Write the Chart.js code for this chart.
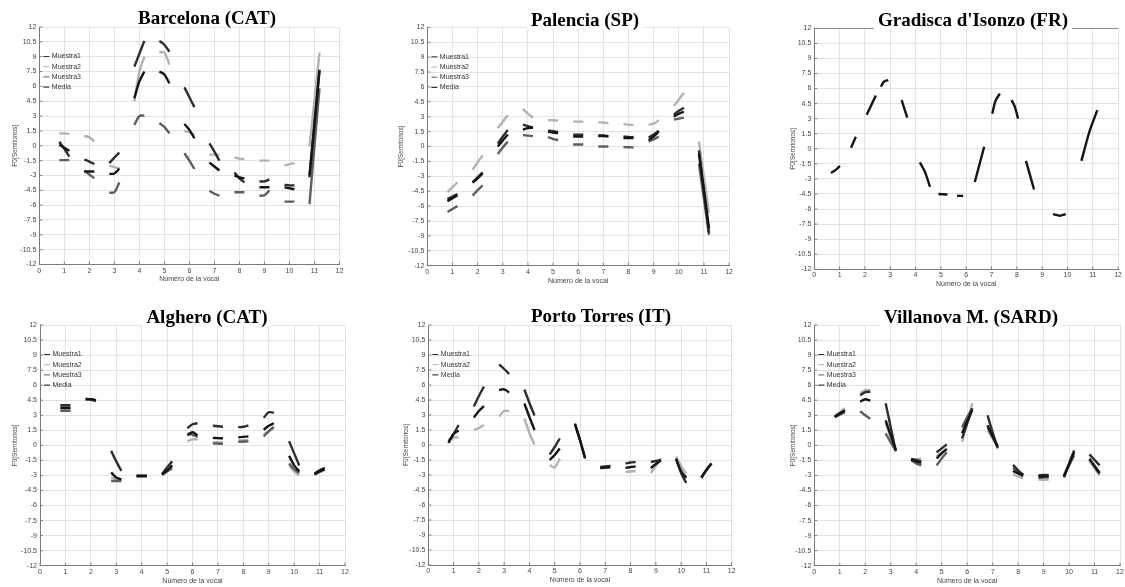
<!DOCTYPE html>
<html>
<head>
<meta charset="utf-8">
<script src="https://cdn.jsdelivr.net/npm/chart.js@4.4.1/dist/chart.umd.min.js"></script>
<style>
html,body{margin:0;padding:0;background:#fff;overflow:hidden;width:1125px;height:587px;}
canvas{position:absolute;}
.ttl{position:absolute;font-family:"Liberation Serif","Times New Roman",serif;font-weight:bold;font-size:19px;line-height:19px;color:#000;background:#fff;white-space:nowrap;transform:translateX(-50%);padding:0 4px;z-index:2;}
</style>
</head>
<body>
<div class="ttl" style="left:207px;top:8px;">Barcelona (CAT)</div>
<div class="ttl" style="left:585px;top:10px;">Palencia (SP)</div>
<div class="ttl" style="left:973px;top:10px;">Gradisca d'Isonzo (FR)</div>
<div class="ttl" style="left:207px;top:307px;">Alghero (CAT)</div>
<div class="ttl" style="left:601px;top:306px;">Porto Torres (IT)</div>
<div class="ttl" style="left:971px;top:307px;">Villanova M. (SARD)</div>
<script>
// ---------- categories / ticks ----------
const vocales = [1, 2, 3, 4, 5, 6, 7, 8, 9, 10, 11];
const segOffsets = [-0.2, 0, 0.2];
const xTickValues = [0, 1, 2, 3, 4, 5, 6, 7, 8, 9, 10, 11, 12];
const yTickValues = [-12, -10.5, -9, -7.5, -6, -4.5, -3, -1.5, 0, 1.5, 3, 4.5, 6, 7.5, 9, 10.5, 12];
const xTitle = 'Número de la vocal';
const yTitle = 'F0[Semitonos]';

// ---------- Barcelona (CAT) ----------
const bcnMuestra1 = [[0.4,-0.3,-1.1],[-1.4,-1.6,-1.85],[-1.75,-1.2,-0.7],[8.0,9.3,10.6],[10.6,10.2,9.5],[5.9,4.9,3.9],[0.25,-0.6,-1.5],[-2.7,-3.3,-3.7],[-3.6,-3.6,-3.4],[-3.95,-4.0,-4.0],[-3.2,2.2,7.7]];
const bcnMuestra2 = [[1.25,1.25,1.2],[1.0,0.85,0.45],[-2.0,-2.15,-2.3],[4.5,7.5,9.0],[9.45,9.4,8.2],[1.5,1.35,1.1],[-0.9,-0.9,-0.95],[-1.15,-1.3,-1.35],[-1.5,-1.5,-1.5],[-2.0,-1.85,-1.75],[-0.1,4.6,9.4]];
const bcnMuestra3 = [[-1.45,-1.45,-1.45],[-2.5,-2.9,-3.3],[-4.75,-4.7,-3.7],[2.1,3.0,3.05],[2.3,1.9,1.25],[-0.75,-1.5,-2.35],[-4.55,-4.85,-5.05],[-4.7,-4.7,-4.7],[-5.05,-5.0,-4.5],[-5.65,-5.65,-5.65],[-5.9,0,5.8]];
const bcnMedia    = [[0.1,-0.2,-0.5],[-2.6,-2.6,-2.6],[-2.85,-2.8,-2.3],[4.8,6.5,7.5],[7.5,7.2,6.3],[2.2,1.6,0.75],[-1.7,-2.1,-2.5],[-3.0,-3.2,-3.3],[-4.2,-4.2,-4.2],[-4.2,-4.3,-4.4],[-3.0,2.3,7.6]];

// ---------- Palencia (SP) ----------
const palMuestra1 = [[-5.3,-5.05,-4.8],[-3.6,-3.1,-2.6],[0.3,1.0,1.65],[2.2,2.05,1.9],[1.6,1.55,1.45],[1.2,1.2,1.2],[1.1,1.1,1.05],[1.0,0.95,0.95],[0.9,1.2,1.6],[3.2,3.6,3.9],[-0.4,-4.6,-8.7]];
const palMuestra2 = [[-4.6,-4.1,-3.6],[-2.35,-1.6,-0.9],[1.85,2.5,3.15],[3.8,3.3,2.9],[2.65,2.65,2.6],[2.5,2.5,2.5],[2.45,2.4,2.35],[2.25,2.2,2.15],[2.2,2.3,2.65],[4.1,4.7,5.4],[0.5,-3.1,-6.7]];
const palMuestra3 = [[-6.6,-6.3,-6.0],[-4.95,-4.4,-3.9],[-0.75,-0.1,0.5],[1.15,1.1,1.05],[0.95,0.75,0.65],[0.2,0.2,0.2],[0.0,0.0,0.0],[-0.05,-0.08,-0.1],[0.5,0.7,1.0],[2.7,2.8,2.9],[-1.7,-5.3,-8.9]];
const palMedia    = [[-5.5,-5.2,-4.9],[-3.65,-3.2,-2.7],[0.0,0.6,1.2],[1.7,1.85,1.9],[1.5,1.4,1.35],[1.0,1.0,1.0],[1.05,1.05,1.0],[0.85,0.85,0.85],[0.65,1.0,1.5],[3.0,3.3,3.5],[-0.7,-4.4,-8.2]];

// ---------- Gradisca d'Isonzo (FR) ----------
const grdSegX = [[0.66,0.85,1.01],[1.45,1.64],[2.07,2.43],[2.63,2.76,2.92],[3.45,3.67],[4.17,4.37,4.57],[4.9,5.26],[5.64,5.88],[6.34,6.71],[7.03,7.16,7.33],[7.79,7.92,8.05],[8.36,8.68],[9.43,9.7,9.93],[10.55,10.88,11.18]];
const grdSegY = [[-2.4,-2.1,-1.7],[0.1,1.2],[3.4,5.3],[6.2,6.7,6.85],[4.85,3.1],[-1.35,-2.3,-3.8],[-4.5,-4.55],[-4.68,-4.7],[-3.3,0.2],[3.5,4.8,5.5],[4.85,4.2,3.0],[-1.2,-4.05],[-6.5,-6.67,-6.5],[-1.2,1.8,3.85]];

// ---------- Alghero (CAT) ----------
const algMuestra1 = [[4.0,4.0,4.0],[4.65,4.6,4.45],[-0.55,-1.6,-2.55],[-3.05,-3.05,-3.05],[-2.85,-2.2,-1.6],[1.7,2.1,2.2],[1.95,1.9,1.85],[1.8,1.85,2.0],[2.75,3.3,3.25],[0.4,-0.8,-2.0],[-2.8,-2.5,-2.25]];
const algMuestra2 = [[3.6,3.6,3.6],[4.55,4.6,4.5],[-3.2,-3.4,-3.5],[-3.0,-3.0,-3.0],[-3.0,-2.6,-2.1],[0.4,0.6,0.6],[0.3,0.3,0.3],[0.5,0.5,0.55],[1.1,1.4,1.7],[-2.0,-2.6,-3.0],[-2.95,-2.7,-2.45]];
const algMuestra3 = [[3.45,3.45,3.45],[4.6,4.55,4.4],[-3.55,-3.55,-3.55],[-3.05,-3.05,-3.05],[-2.9,-2.6,-2.3],[1.2,1.05,0.85],[0.2,0.18,0.15],[0.35,0.38,0.4],[0.9,1.4,1.85],[-1.8,-2.4,-2.75],[-2.85,-2.6,-2.4]];
const algMedia    = [[3.75,3.75,3.75],[4.6,4.6,4.5],[-2.7,-3.2,-3.4],[-3.05,-3.05,-3.05],[-2.9,-2.5,-2.0],[1.0,1.3,1.0],[0.75,0.72,0.7],[0.8,0.85,0.9],[1.55,1.95,2.2],[-1.05,-2.0,-2.6],[-2.9,-2.6,-2.35]];

// ---------- Porto Torres (IT) ----------
const ptMuestra1 = [[0.2,1.1,2.0],[3.85,4.9,5.85],[8.05,7.6,7.1],[5.55,4.2,2.95],[-0.95,-0.2,0.65],[2.15,0.5,-1.35],[-2.2,-2.15,-2.1],[-1.85,-1.75,-1.7],[-1.7,-1.6,-1.5],[-1.35,-2.8,-3.8],[-3.3,-2.5,-1.85]];
const ptMuestra2 = [[0.5,0.75,0.75],[1.5,1.7,2.0],[2.85,3.4,3.4],[2.65,1.2,0.05],[-2.0,-2.25,-1.35],[2.0,0.4,-1.3],[-2.3,-2.3,-2.25],[-2.7,-2.65,-2.6],[-2.8,-2.1,-1.35],[-1.15,-2.1,-2.85],[-3.2,-2.5,-1.9]];
const ptMedia    = [[0.3,1.1,1.45],[2.75,3.4,3.9],[5.5,5.57,5.25],[4.15,2.8,1.5],[-1.5,-1.0,-0.35],[2.1,0.5,-1.3],[-2.3,-2.25,-2.2],[-2.3,-2.2,-2.15],[-2.3,-1.9,-1.55],[-1.45,-2.6,-3.3],[-3.25,-2.5,-1.85]];

// ---------- Villanova M. (SARD) ----------
const vilMuestra1 = [[2.85,3.2,3.5],[5.0,5.3,5.35],[4.2,1.8,-0.6],[-1.35,-1.45,-1.6],[-0.7,-0.3,0.1],[0.7,2.2,3.7],[3.0,1.3,-0.3],[-1.95,-2.5,-2.95],[-3.0,-2.95,-2.95],[-3.2,-1.8,-0.5],[-0.9,-1.45,-2.0]];
const vilMuestra2 = [[2.9,3.3,3.7],[5.2,5.5,5.5],[2.2,0.8,-0.5],[-1.6,-1.4,-1.3],[-1.1,-0.7,-0.3],[0.35,2.3,4.2],[1.5,0.7,0.0],[-2.9,-3.1,-3.3],[-3.4,-3.45,-3.4],[-2.9,-1.9,-0.8],[-1.6,-2.3,-3.0]];
const vilMuestra3 = [[2.8,3.05,3.3],[3.4,3.0,2.65],[1.2,0.3,-0.55],[-1.45,-1.8,-2.0],[-2.0,-1.3,-0.7],[1.8,2.8,3.7],[1.8,0.8,-0.2],[-2.25,-2.6,-2.95],[-3.25,-3.2,-3.2],[-3.0,-2.0,-1.0],[-1.3,-2.0,-2.7]];
const vilMedia    = [[2.85,3.15,3.45],[4.35,4.6,4.45],[2.5,1.0,-0.45],[-1.4,-1.6,-1.75],[-1.3,-0.8,-0.37],[1.2,2.4,3.5],[2.0,0.9,-0.1],[-2.55,-2.8,-3.05],[-3.1,-3.1,-3.05],[-3.1,-1.9,-0.7],[-1.4,-2.1,-2.8]];

// ---------- styling ----------
const seriesColors = {Muestra1:'#2e2e2e', Muestra2:'#b2b2b2', Muestra3:'#5e5e5e', Media:'#151515'};
const seriesOrder = {Muestra1:1, Muestra2:3, Muestra3:2, Media:0};
const tickFont = {family:'"Liberation Sans", Arial, sans-serif', size:7};

function vowelPoints(segs){
  const pts = [];
  segs.forEach((ys, i) => {
    const v = vocales[i];
    ys.forEach((y, k) => pts.push({x: v + segOffsets[k], y: y}));
    pts.push({x: v + 0.3, y: null});
  });
  return pts;
}
function xyPoints(xs, ys){
  const pts = [];
  xs.forEach((seg, i) => {
    seg.forEach((x, k) => pts.push({x: x, y: ys[i][k]}));
    pts.push({x: seg[seg.length-1] + 0.05, y: null});
  });
  return pts;
}
function mkDataset(label, pts){
  return {label: label, data: pts, borderColor: seriesColors[label], backgroundColor: seriesColors[label],
    borderWidth: 2.4, pointRadius: 0, tension: 0.3, spanGaps: false, order: seriesOrder[label], borderCapStyle: 'butt'};
}

const insetLegend = {
  id: 'insetLegend',
  afterDatasetsDraw(chart, args, opts){
    if (!opts || !opts.show) return;
    const {ctx, chartArea} = chart;
    ctx.save();
    ctx.font = '7px "Liberation Sans", Arial, sans-serif';
    ctx.textBaseline = 'middle';
    chart.data.datasets.forEach((ds, i) => {
      const y = chartArea.top + 29.5 + i * 10.2;
      ctx.strokeStyle = ds.borderColor; ctx.lineWidth = 1;
      ctx.beginPath(); ctx.moveTo(chartArea.left + 4, y); ctx.lineTo(chartArea.left + 10, y); ctx.stroke();
      ctx.fillStyle = '#333';
      ctx.fillText(ds.label, chartArea.left + 12.5, y);
    });
    ctx.restore();
  }
};
const tickMarks = {
  id: 'tickMarks',
  afterDraw(chart){
    const {ctx, chartArea, scales} = chart;
    ctx.save();
    ctx.strokeStyle = '#808080'; ctx.lineWidth = 1;
    ctx.beginPath();
    scales.x.ticks.forEach(t => { const px = scales.x.getPixelForValue(t.value); ctx.moveTo(px, chartArea.bottom); ctx.lineTo(px, chartArea.bottom - 3); });
    scales.y.ticks.forEach(t => { const py = scales.y.getPixelForValue(t.value); ctx.moveTo(chartArea.left, py); ctx.lineTo(chartArea.left + 3, py); });
    ctx.stroke();
    ctx.restore();
  }
};

function makePanel(p){
  const cl = Math.round(p.l) - 40, ct = Math.round(p.t) - 8;
  const cr = Math.round(p.r) + 6, cb = Math.round(p.b) + 24;
  const cv = document.createElement('canvas');
  cv.width = cr - cl; cv.height = cb - ct;
  cv.style.left = cl + 'px'; cv.style.top = ct + 'px';
  cv.style.width = (cr - cl) + 'px'; cv.style.height = (cb - ct) + 'px';
  document.body.appendChild(cv);
  const yW = p.l - cl, xH = cb - p.b;
  new Chart(cv.getContext('2d'), {
    type: 'line',
    data: {datasets: p.datasets},
    options: {
      responsive: false, animation: false, devicePixelRatio: 1,
      layout: {padding: {top: p.t - ct, right: cr - p.r, left: 0, bottom: 0}},
      plugins: {legend: {display: false}, tooltip: {enabled: false}, insetLegend: {show: p.legend}},
      scales: {
        x: {type: 'linear', min: 0, max: 12,
          afterBuildTicks: s => { s.ticks = xTickValues.map(v => ({value: v})); },
          ticks: {autoSkip: false, maxRotation: 0, padding: 2, color: '#444', font: tickFont, callback: v => String(v)},
          grid: {color: '#e2e2e2', drawTicks: false, lineWidth: 1},
          border: {display: true, color: '#7a7a7a', width: 1},
          title: {display: true, text: xTitle, color: '#444', font: tickFont, padding: {top: 0, bottom: xH - 15 - 4.2}},
          afterFit: s => { s.height = xH; }
        },
        y: {type: 'linear', min: -12, max: 12,
          afterBuildTicks: s => { s.ticks = yTickValues.map(v => ({value: v})); },
          ticks: {autoSkip: false, padding: 3, color: '#444', font: tickFont, callback: v => String(v)},
          grid: {color: c => (p.topLine && c.tick && c.tick.value === 12) ? '#8a8a8a' : '#e2e2e2', drawTicks: false, lineWidth: 1},
          border: {display: true, color: '#7a7a7a', width: 1},
          title: {display: true, text: yTitle, color: '#444', font: {family: tickFont.family, size: 6.5}, padding: {top: yW - p.yOff - 3.9, bottom: 0}},
          afterFit: s => { s.width = yW; }
        }
      }
    },
    plugins: [insetLegend, tickMarks]
  });
}

const panels = [
  {l:39.3, t:27, r:339.5, b:264.5, yOff:24, legend:true, datasets:[mkDataset('Muestra1', vowelPoints(bcnMuestra1)), mkDataset('Muestra2', vowelPoints(bcnMuestra2)), mkDataset('Muestra3', vowelPoints(bcnMuestra3)), mkDataset('Media', vowelPoints(bcnMedia))]},
  {l:427.3, t:27.3, r:729.3, b:265.7, yOff:26, legend:true, datasets:[mkDataset('Muestra1', vowelPoints(palMuestra1)), mkDataset('Muestra2', vowelPoints(palMuestra2)), mkDataset('Muestra3', vowelPoints(palMuestra3)), mkDataset('Media', vowelPoints(palMedia))]},
  {l:814.3, t:28.3, r:1118.3, b:269.3, yOff:21, legend:false, topLine:true, datasets:[mkDataset('Media', xyPoints(grdSegX, grdSegY))]},
  {l:40, t:325, r:345, b:565.7, yOff:25, legend:true, datasets:[mkDataset('Muestra1', vowelPoints(algMuestra1)), mkDataset('Muestra2', vowelPoints(algMuestra2)), mkDataset('Muestra3', vowelPoints(algMuestra3)), mkDataset('Media', vowelPoints(algMedia))]},
  {l:428.3, t:325, r:731.7, b:565, yOff:22, legend:true, datasets:[mkDataset('Muestra1', vowelPoints(ptMuestra1)), mkDataset('Muestra2', vowelPoints(ptMuestra2)), mkDataset('Media', vowelPoints(ptMedia))]},
  {l:814.3, t:325, r:1120, b:565.7, yOff:21, legend:true, datasets:[mkDataset('Muestra1', vowelPoints(vilMuestra1)), mkDataset('Muestra2', vowelPoints(vilMuestra2)), mkDataset('Muestra3', vowelPoints(vilMuestra3)), mkDataset('Media', vowelPoints(vilMedia))]}
];
panels.forEach(makePanel);
</script>
</body>
</html>
